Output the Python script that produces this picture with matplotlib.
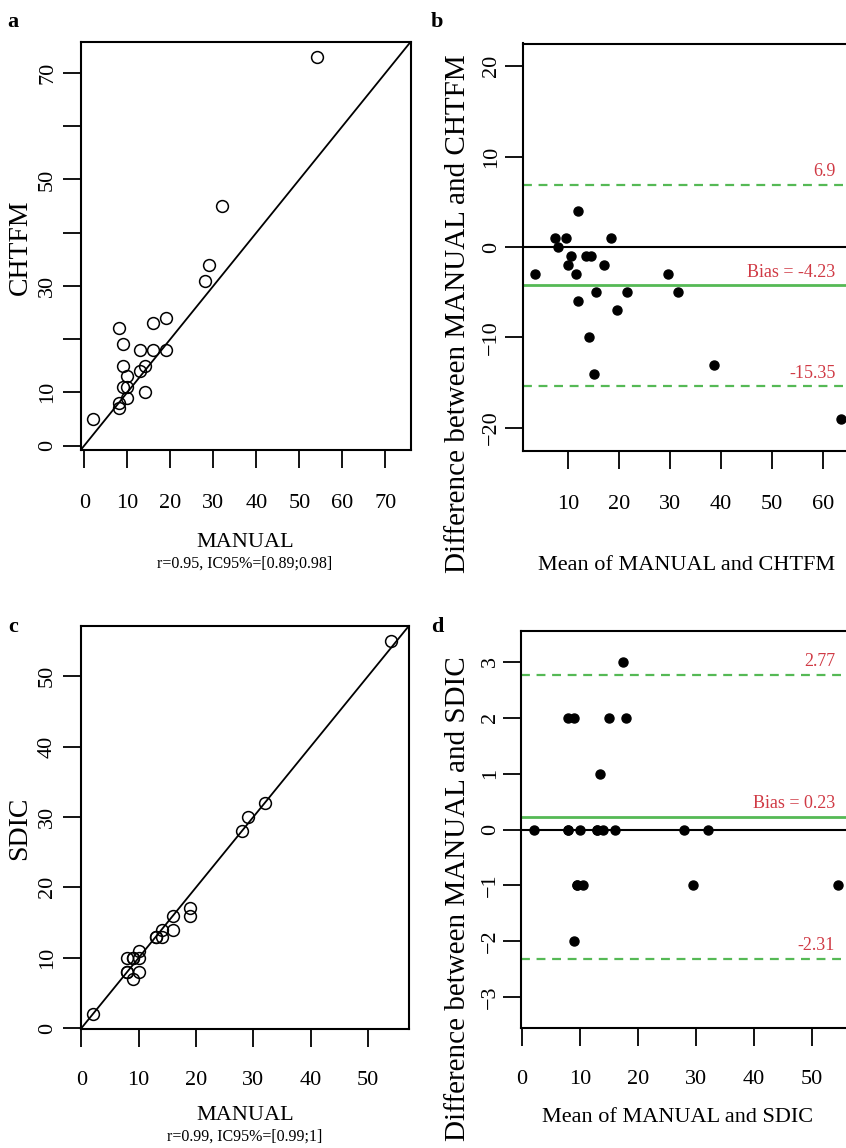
import numpy as np
import matplotlib.pyplot as plt

plt.rcParams['font.family'] = ['Liberation Serif', 'DejaVu Serif']

# values (one entry per case, sorted by MANUAL)
manual = [2, 8, 8, 8, 9, 9, 9, 10, 10, 10, 13, 13, 14, 14, 16, 16, 19, 19, 28, 29, 32, 54]
chtfm = [5, 22, 8, 7, 19, 15, 11, 13, 11, 9, 18, 14, 15, 10, 23, 18, 24, 18, 31, 34, 45, 73]
sdic = [2, 8, 8, 10, 7, 10, 10, 8, 10, 11, 13, 13, 13, 14, 14, 16, 16, 17, 28, 30, 32, 55]

# printed statistics
sub_chtfm = "r=0.95, IC95%=[0.89;0.98]"
sub_sdic = "r=0.99, IC95%=[0.99;1]"
bias_chtfm, lo_chtfm, hi_chtfm = -4.23, -15.35, 6.9
bias_sdic, lo_sdic, hi_sdic = 0.23, -2.31, 2.77

W, H = 846, 1148
RED = '#d03a45'
GREEN = '#55b955'


def box(l, t, r, b):
    return [l / W, 1 - b / H, (r - l) / W, (b - t) / H]


def px(x, y):
    return x / W, 1 - y / H


def r_lim(v):
    lo, hi = min(v), max(v)
    d = 0.04 * (hi - lo)
    return lo - d, hi + d


def style(ax, xpad, ypad):
    for s in ax.spines.values():
        s.set_linewidth(1.5)
    ax.tick_params(length=13, width=1.3, labelsize=16, direction='out')
    ax.tick_params(axis='x', pad=xpad)
    ax.tick_params(axis='y', pad=ypad)
    for lab in ax.get_yticklabels():
        lab.set_rotation(90)
        lab.set_va('center')


fig = plt.figure(figsize=(W / 100, H / 100), dpi=100)

# ---- a: MANUAL vs CHTFM
ax = fig.add_axes(box(80.7, 42, 410.5, 450))
lim = r_lim(manual + chtfm)
ax.plot(manual, chtfm, 'o', mfc='none', mec='black', ms=8.5, mew=1.1)
ax.axline((0, 0), slope=1, color='black', lw=1.3)
ax.set_xlim(lim)
ax.set_ylim(lim)
ax.set_xticks(range(0, 80, 10))
ax.set_yticks(range(0, 80, 10))
ax.set_yticklabels(['0', '10', '', '30', '', '50', '', '70'])
style(ax, 19, 4)

# ---- b: Bland-Altman CHTFM
ax = fig.add_axes(box(522.7, 43.5, 853.4, 450.5))
m = (np.array(manual) + np.array(chtfm)) / 2
d = np.array(manual) - np.array(chtfm)
ax.plot(m, d, 'o', color='black', ms=6.5)
ax.axhline(0, color='black', lw=1.5)
ax.axhline(bias_chtfm, color=GREEN, lw=2)
ax.axhline(lo_chtfm, color=GREEN, lw=1.6, ls=(0, (4, 3)))
ax.axhline(hi_chtfm, color=GREEN, lw=1.6, ls=(0, (4, 3)))
ax.set_xlim(r_lim(m))
ax.set_ylim(-22.5, 22.5)
ax.set_xticks(range(10, 70, 10))
ax.set_yticks(range(-20, 30, 10))
for val, txt in [(bias_chtfm, 'Bias = %.2f' % bias_chtfm), (lo_chtfm, '%.2f' % lo_chtfm), (hi_chtfm, '%.1f' % hi_chtfm)]:
    ax.annotate(txt, (62.4, val), xytext=(0, 3), textcoords='offset points',
                ha='right', va='bottom', color=RED, fontsize=13)
style(ax, 19, 2.5)

# ---- c: MANUAL vs SDIC
ax = fig.add_axes(box(80.7, 626, 408.8, 1029))
lim = r_lim(manual + sdic)
ax.plot(manual, sdic, 'o', mfc='none', mec='black', ms=8.5, mew=1.1)
ax.axline((0, 0), slope=1, color='black', lw=1.3)
ax.set_xlim(lim)
ax.set_ylim(lim)
ax.set_xticks(range(0, 60, 10))
ax.set_yticks(range(0, 60, 10))
style(ax, 17, 4)

# ---- d: Bland-Altman SDIC
ax = fig.add_axes(box(521.4, 631, 850.3, 1028))
m = (np.array(manual) + np.array(sdic)) / 2
d = np.array(manual) - np.array(sdic)
ax.plot(m, d, 'o', color='black', ms=6.5)
ax.axhline(0, color='black', lw=1.5)
ax.axhline(bias_sdic, color=GREEN, lw=2)
ax.axhline(lo_sdic, color=GREEN, lw=1.6, ls=(0, (4, 3)))
ax.axhline(hi_sdic, color=GREEN, lw=1.6, ls=(0, (4, 3)))
ax.set_xlim(r_lim(m))
ax.set_ylim(-3.55, 3.55)
ax.set_xticks(range(0, 60, 10))
ax.set_yticks(range(-3, 4))
for val, txt in [(bias_sdic, 'Bias = %.2f' % bias_sdic), (lo_sdic, '%.2f' % lo_sdic), (hi_sdic, '%.2f' % hi_sdic)]:
    ax.annotate(txt, (54.0, val), xytext=(0, 3), textcoords='offset points',
                ha='right', va='bottom', color=RED, fontsize=13)
style(ax, 17, 2.5)

# axis titles, subtitles and panel letters
fig.text(*px(245, 543), 'MANUAL', ha='center', va='center', fontsize=16)
fig.text(*px(245, 564), sub_chtfm, ha='center', va='center', fontsize=11.5)
fig.text(*px(245, 1115), 'MANUAL', ha='center', va='center', fontsize=16)
fig.text(*px(245, 1137), sub_sdic, ha='center', va='center', fontsize=11.5)
fig.text(*px(687, 565), 'Mean of MANUAL and CHTFM', ha='center', va='center', fontsize=16)
fig.text(*px(678, 1118), 'Mean of MANUAL and SDIC', ha='center', va='center', fontsize=16)

fig.text(*px(20, 247), 'CHTFM', rotation=90, ha='center', va='center', fontsize=20)
fig.text(*px(20, 828), 'SDIC', rotation=90, ha='center', va='center', fontsize=20)
fig.text(*px(458, 573), 'Difference between MANUAL and CHTFM', rotation=90,
         ha='center', va='bottom', fontsize=21)
fig.text(*px(458, 1141), 'Difference between MANUAL and SDIC', rotation=90,
         ha='center', va='bottom', fontsize=21)

for lab, x, y in [('a', 13, 22), ('b', 437, 22), ('c', 13, 627), ('d', 437, 627)]:
    fig.text(*px(x, y), lab, ha='center', va='center', fontsize=16, fontweight='bold')

fig.savefig('out.png', dpi=100)
